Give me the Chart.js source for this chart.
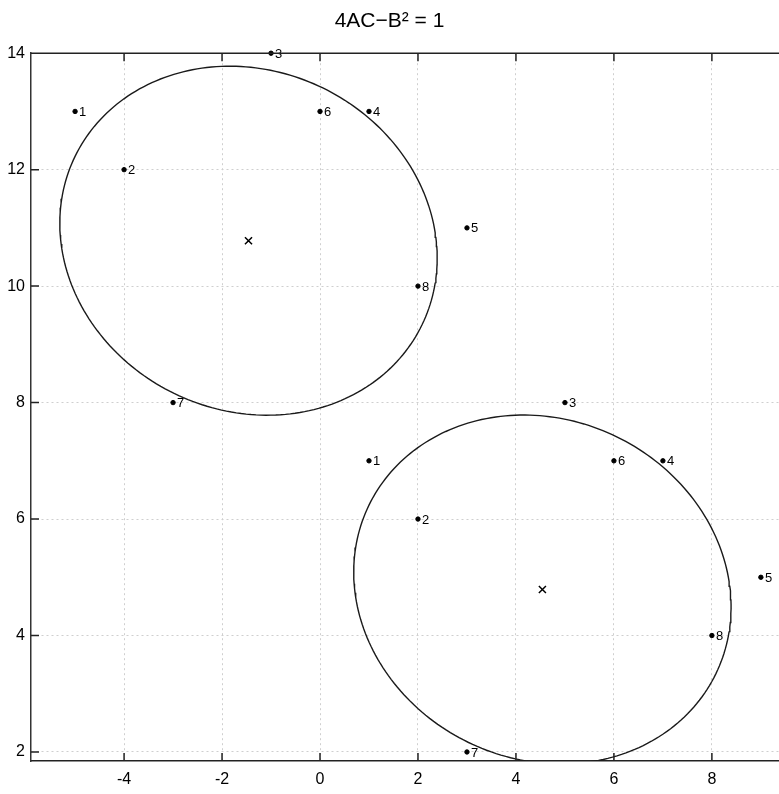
<!DOCTYPE html>
<html>
<head>
<meta charset="utf-8">
<script src="https://cdn.jsdelivr.net/npm/chart.js@4.4.1/dist/chart.umd.min.js"></script>
<style>
  html, body { margin: 0; padding: 0; background: #fff; }
  #wrap { width: 779px; height: 794px; position: relative; }
</style>
</head>
<body>
<div id="wrap"><canvas id="conicChart"></canvas></div>
<script>
// --- data ---
const pointLabels = ['1', '2', '3', '4', '5', '6', '7', '8'];
const upperX = [-5, -4, -1, 1, 3, 0, -3, 2];
const upperY = [13, 12, 14, 13, 11, 13, 8, 10];
const lowerX = [1, 2, 5, 7, 9, 6, 3, 8];
const lowerY = [7, 6, 8, 7, 5, 7, 2, 4];

// fitted ellipses: centre (marked x), semi axes, tilt of major axis
const centreX = [-1.46, 4.54];
const centreY = [10.78, 4.79];
const semiMajor = [3.88, 3.88];
const semiMinor = [2.96, 2.96];
const tiltDeg = [-10.7, -10.7];

const xTicks = [-4, -2, 0, 2, 4, 6, 8];
const yTicks = [2, 4, 6, 8, 10, 12, 14];

// sample the ellipse outline from its parameters
function ellipsePath(i) {
    const pts = [];
    const th = tiltDeg[i] * Math.PI / 180;
    for (let k = 0; k <= 240; k++) {
        const t = 2 * Math.PI * k / 240;
        const u = semiMajor[i] * Math.cos(t);
        const v = semiMinor[i] * Math.sin(t);
        pts.push({
            x: centreX[i] + u * Math.cos(th) - v * Math.sin(th),
            y: centreY[i] + u * Math.sin(th) + v * Math.cos(th)
        });
    }
    return pts;
}

function zipPoints(xs, ys) {
    return xs.map((x, i) => ({ x: x, y: ys[i] }));
}

// text next to each data point
const pointTextPlugin = {
    id: 'pointText',
    afterDatasetsDraw(chart) {
        const ctx = chart.ctx;
        ctx.save();
        ctx.fillStyle = '#000';
        ctx.font = '13px "Liberation Sans", Arial, sans-serif';
        ctx.textAlign = 'left';
        ctx.textBaseline = 'middle';
        chart.data.datasets.forEach((ds, di) => {
            if (!ds.pointText) return;
            chart.getDatasetMeta(di).data.forEach((el, i) => {
                ctx.fillText(pointLabels[i], el.x + 4, el.y + 1);
            });
        });
        ctx.restore();
    }
};

// MATLAB style box: top line plus ticks pointing inward
const boxTicksPlugin = {
    id: 'boxTicks',
    afterDraw(chart) {
        const ctx = chart.ctx;
        const a = chart.chartArea;
        const xs = chart.scales.x, ys = chart.scales.y;
        ctx.save();
        ctx.strokeStyle = '#222';
        ctx.lineWidth = 1.5;
        ctx.beginPath();
        ctx.moveTo(a.left, a.top);
        ctx.lineTo(a.right, a.top);
        xTicks.forEach(v => {
            const px = xs.getPixelForValue(v);
            ctx.moveTo(px, a.bottom);
            ctx.lineTo(px, a.bottom - 8);
            ctx.moveTo(px, a.top);
            ctx.lineTo(px, a.top + 8);
        });
        yTicks.forEach(v => {
            const py = ys.getPixelForValue(v);
            ctx.moveTo(a.left, py);
            ctx.lineTo(a.left + 8, py);
        });
        ctx.stroke();
        ctx.restore();
    }
};

const ctx = document.getElementById('conicChart').getContext('2d');
new Chart(ctx, {
    type: 'scatter',
    data: {
        datasets: [
            {
                data: ellipsePath(0),
                showLine: true,
                borderColor: '#1a1a1a',
                borderWidth: 1.4,
                pointRadius: 0,
                tension: 0
            },
            {
                data: ellipsePath(1),
                showLine: true,
                borderColor: '#1a1a1a',
                borderWidth: 1.4,
                pointRadius: 0,
                tension: 0
            },
            {
                data: zipPoints(upperX, upperY),
                pointRadius: 2.2,
                pointBackgroundColor: '#000',
                pointBorderColor: '#000',
                pointText: true,
                clip: false
            },
            {
                data: zipPoints(lowerX, lowerY),
                pointRadius: 2.2,
                pointBackgroundColor: '#000',
                pointBorderColor: '#000',
                pointText: true,
                clip: false
            },
            {
                data: zipPoints(centreX, centreY),
                pointStyle: 'crossRot',
                pointRadius: 5,
                pointBorderWidth: 1.5,
                pointBorderColor: '#000'
            }
        ]
    },
    options: {
        responsive: true,
        maintainAspectRatio: false,
        animation: false,
        layout: { padding: 0, autoPadding: false },
        plugins: {
            legend: { display: false },
            tooltip: { enabled: false },
            title: {
                display: true,
                text: '4AC\u2212B\u00b2 = 1',
                color: '#000',
                font: { family: '"Liberation Sans", Arial, sans-serif', size: 21, weight: 'normal', lineHeight: 1.2 },
                padding: { top: 9, bottom: 19 }
            }
        },
        scales: {
            x: {
                type: 'linear',
                min: -5.9,
                max: 9.37,
                afterBuildTicks: s => { s.ticks = xTicks.map(v => ({ value: v })); },
                afterFit: s => { s.height = 33; s.paddingLeft = 0; s.paddingRight = 0; },
                ticks: {
                    color: '#000',
                    padding: 9,
                    font: { family: '"Liberation Sans", Arial, sans-serif', size: 16 }
                },
                grid: { color: '#cfcfcf', lineWidth: 1, drawTicks: false },
                border: { display: true, color: '#222', width: 1.5, dash: [2, 3] }
            },
            y: {
                type: 'linear',
                min: 1.845,
                max: 14,
                afterBuildTicks: s => { s.ticks = yTicks.map(v => ({ value: v })); },
                afterFit: s => { s.width = 31; },
                ticks: {
                    color: '#000',
                    padding: 6,
                    font: { family: '"Liberation Sans", Arial, sans-serif', size: 16 }
                },
                grid: { color: '#cfcfcf', lineWidth: 1, drawTicks: false },
                border: { display: true, color: '#333', width: 1.5, dash: [2, 3] }
            }
        }
    },
    plugins: [pointTextPlugin, boxTicksPlugin]
});
</script>
</body>
</html>
